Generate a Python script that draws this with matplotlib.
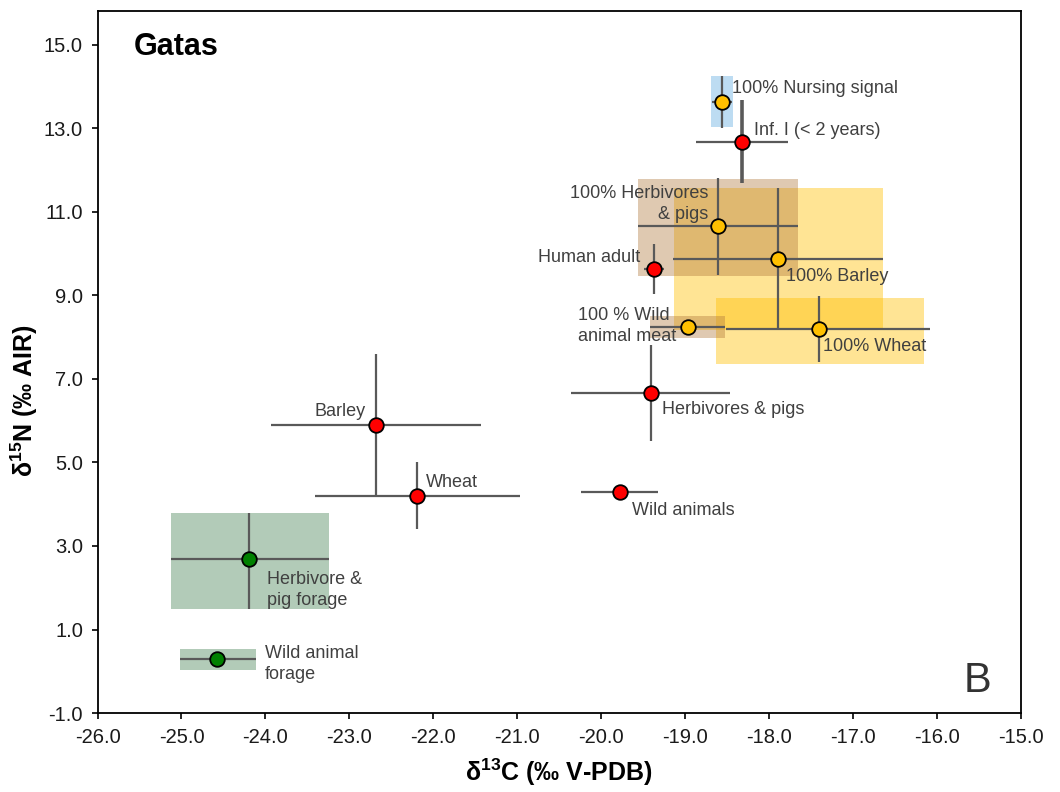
import matplotlib
matplotlib.use("Agg")
import matplotlib.pyplot as plt
from matplotlib.patches import Rectangle
from matplotlib.ticker import FormatStrFormatter

plt.rcParams['font.family'] = ['Liberation Sans', 'DejaVu Sans']
plt.rcParams['mathtext.fontset'] = 'custom'
plt.rcParams['mathtext.rm'] = 'Liberation Sans'
plt.rcParams['mathtext.bf'] = 'Liberation Sans:bold'

# ---- measured consumers / foods (red) ----
red_names = ['Inf. I (< 2 years)', 'Human adult', 'Herbivores & pigs', 'Barley', 'Wheat', 'Wild animals']
red_x = [-18.32, -19.37, -19.41, -22.68, -22.19, -19.78]
red_y = [12.68, 9.64, 6.66, 5.90, 4.20, 4.28]
red_xerr = [0.55, 0.12, 0.95, 1.25, 1.22, 0.46]
red_yerr = [1.00, 0.60, 1.15, 1.70, 0.80, 0.0]

# ---- 100% diet end-members (yellow) ----
yel_names = ['100% Nursing signal', '100% Herbivores\n& pigs', '100% Barley', '100% Wheat', '100 % Wild\nanimal meat']
yel_x = [-18.56, -18.61, -17.89, -17.40, -18.97]
yel_y = [13.63, 10.65, 9.88, 8.19, 8.25]
yel_xerr_lo = [0.12, 0.95, 1.25, 1.11, 0.45]
yel_xerr_hi = [0.12, 0.95, 1.25, 1.32, 0.45]
yel_yerr = [0.62, 1.16, 1.70, 0.79, 0.0]

# ---- forage (green) ----
grn_names = ['Herbivore &\npig forage', 'Wild animal\nforage']
grn_x = [-24.20, -24.58]
grn_y = [2.68, 0.29]
grn_xerr_lo = [0.93, 0.44]
grn_xerr_hi = [0.96, 0.47]
grn_yerr_lo = [1.18, 0.0]
grn_yerr_hi = [1.12, 0.0]

# ---- shaded ranges: x0, x1, y0, y1, kind ----
box_x0 = [-19.13, -18.63, -19.56, -19.42, -18.69, -25.13, -25.02]
box_x1 = [-16.64, -16.15, -17.65, -18.52, -18.43, -23.24, -24.11]
box_y0 = [8.17, 7.36, 9.47, 7.99, 13.04, 1.50, 0.03]
box_y1 = [11.58, 8.94, 11.79, 8.51, 14.26, 3.80, 0.53]
box_kind = ['yellow', 'yellow', 'brown', 'brown', 'blue', 'green', 'green']

box_style = {
    'yellow': dict(facecolor='#FFC000', alpha=0.42),
    'brown': dict(facecolor='#B0783C', alpha=0.40),
    'blue': dict(facecolor='#BDDCF2', alpha=1.0),
    'green': dict(facecolor='#B2CBB8', alpha=1.0),
}

fig = plt.figure(figsize=(10.6, 7.92), dpi=100)
ax = fig.add_axes([0.092, 0.0997, 0.871, 0.886])

for x0, x1, y0, y1, k in zip(box_x0, box_x1, box_y0, box_y1, box_kind):
    ax.add_patch(Rectangle((x0, y0), x1 - x0, y1 - y0, linewidth=0, zorder=1, **box_style[k]))

ecol = '#595959'
elw = 1.6
# red error bars (Inf. I vertical thicker)
ax.errorbar(red_x, red_y, xerr=red_xerr, fmt='none', ecolor=ecol, elinewidth=elw, capsize=0, zorder=2)
ax.errorbar(red_x[1:], red_y[1:], yerr=red_yerr[1:], fmt='none', ecolor=ecol, elinewidth=elw, capsize=0, zorder=2)
ax.errorbar(red_x[:1], red_y[:1], yerr=red_yerr[:1], fmt='none', ecolor=ecol, elinewidth=2.6, capsize=0, zorder=2)
ax.errorbar(yel_x, yel_y, xerr=[yel_xerr_lo, yel_xerr_hi], yerr=yel_yerr, fmt='none',
            ecolor=ecol, elinewidth=elw, capsize=0, zorder=2)
ax.errorbar(grn_x, grn_y, xerr=[grn_xerr_lo, grn_xerr_hi], yerr=[grn_yerr_lo, grn_yerr_hi], fmt='none',
            ecolor=ecol, elinewidth=elw, capsize=0, zorder=2)

ms = 10.5
ax.plot(red_x, red_y, 'o', ms=ms, mfc='#FF0000', mec='black', mew=1.3, ls='none', zorder=3)
ax.plot(yel_x, yel_y, 'o', ms=ms, mfc='#FFC000', mec='black', mew=1.3, ls='none', zorder=3)
ax.plot(grn_x, grn_y, 'o', ms=ms, mfc='#008000', mec='black', mew=1.3, ls='none', zorder=3)

# labels: (text, x, y, ha)
lab_text = ['100% Nursing signal', 'Inf. I (< 2 years)', '100% Herbivores\n& pigs', 'Human adult',
            '100% Barley', '100 % Wild\nanimal meat', '100% Wheat', 'Herbivores & pigs',
            'Barley', 'Wheat', 'Wild animals', 'Herbivore &\npig forage', 'Wild animal\nforage']
lab_x = [-18.44, -18.18, -18.72, -19.53, -17.80, -20.27, -17.36, -19.27,
         -22.81, -22.09, -19.63, -23.98, -24.01]
lab_y = [13.95, 12.94, 11.19, 9.90, 9.45, 8.27, 7.77, 6.26,
         6.23, 4.52, 3.86, 1.95, 0.17]
lab_ha = ['left', 'left', 'right', 'right', 'left', 'left', 'left', 'left',
          'right', 'left', 'left', 'left', 'left']
for t, x, y, h in zip(lab_text, lab_x, lab_y, lab_ha):
    ax.text(x, y, t, ha=h, va='center', multialignment=h, fontsize=13, color='#404040',
            linespacing=1.3, zorder=4)

ax.text(0.039, 0.938, 'Gatas', transform=ax.transAxes, fontsize=22, fontweight='bold',
        ha='left', va='baseline')
ax.text(0.968, 0.03, 'B', transform=ax.transAxes, fontsize=30, ha='right', va='baseline',
        color='#333333')

ax.set_xlim(-26, -15)
ax.set_ylim(-1, 15.8)
ax.set_xticks(list(range(-26, -14)))
ax.set_yticks(list(range(-1, 16, 2)))
ax.xaxis.set_major_formatter(FormatStrFormatter('%.1f'))
ax.yaxis.set_major_formatter(FormatStrFormatter('%.1f'))
ax.tick_params(direction='out', length=4.5, width=1.2, labelsize=14.5, pad=6, labelcolor='#1a1a1a')
for s in ax.spines.values():
    s.set_linewidth(1.3)

ax.set_xlabel(r'δ$^{\mathbf{13}}$C (‰ V-PDB)', fontsize=18, fontweight='bold', labelpad=7)
ax.set_ylabel(r'δ$^{\mathbf{15}}$N (‰ AIR)', fontsize=18, fontweight='bold')
ax.yaxis.set_label_coords(-0.062, 0.445)

fig.savefig('out.png', dpi=100)
